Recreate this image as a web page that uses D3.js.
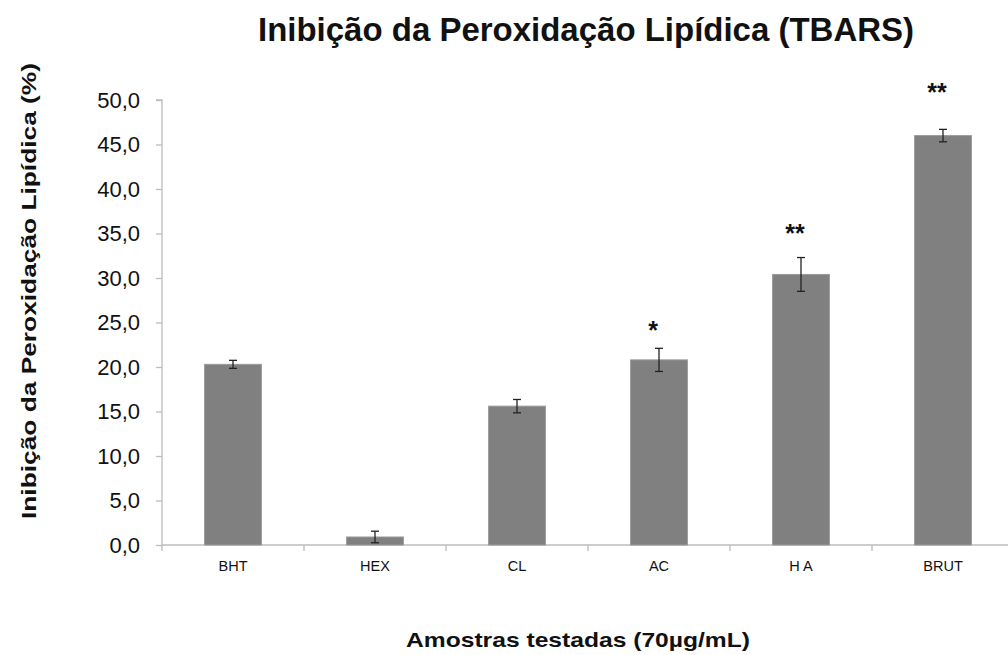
<!DOCTYPE html>
<html><head><meta charset="utf-8">
<script src="https://cdn.jsdelivr.net/npm/d3@7"></script>
<style>body{margin:0;background:#fff}svg{display:block}</style>
</head><body>
<svg id="chart" width="1008" height="655"></svg>
<script>
const categories = ["BHT", "HEX", "CL", "AC", "H A", "BRUT"];
const values = [20.3, 0.9, 15.6, 20.8, 30.4, 46.0];
const errors = [0.45, 0.65, 0.75, 1.3, 1.9, 0.7];
const stars = ["", "", "", "*", "**", "**"];
const starLevels = [0, 0, 0, 23.1, 34.0, 49.9];
const yTicks = [0, 5, 10, 15, 20, 25, 30, 35, 40, 45, 50];
const title = "Inibição da Peroxidação Lipídica (TBARS)";
const yTitle = "Inibição da Peroxidação Lipídica (%)";
const xTitle = "Amostras testadas (70µg/mL)";

const svg = d3.select("#chart");
const mLeft = 162, mRight = 1014, mTop = 100, mBottom = 545;
const x = d3.scaleBand().domain(categories).range([mLeft, mRight]).paddingInner(0.6).paddingOuter(0.3);
const xb = d3.scaleBand().domain(categories).range([mLeft, mRight]);
const y = d3.scaleLinear().domain([0, 50]).range([mBottom, mTop]);
const fmt = v => d3.format(".1f")(v).replace(".", ",");

// y axis
const yAxis = svg.append("g").attr("transform", `translate(${mLeft},0)`)
  .call(d3.axisLeft(y).tickValues(yTicks).tickFormat(fmt).tickSize(6).tickPadding(16));
yAxis.selectAll("path,line").attr("stroke", "#bdbdbd").attr("stroke-width", 1.3);
yAxis.select(".domain").attr("d", `M-6,${mTop}H0V${mBottom}`);
yAxis.selectAll("text").attr("font-family", "Liberation Sans, Arial, sans-serif").attr("font-size", 22).attr("fill", "#111");

// x axis
const xAxis = svg.append("g").attr("transform", `translate(0,${mBottom})`)
  .call(d3.axisBottom(xb).tickSize(0).tickPadding(15.5));
xAxis.select(".domain").attr("stroke", "#bdbdbd").attr("stroke-width", 1.3).attr("d", `M${mLeft},0H${mRight}`);
xAxis.selectAll("text").attr("font-family", "Liberation Sans, Arial, sans-serif").attr("font-size", 14.5).attr("fill", "#111");
xAxis.selectAll(".sep").data(categories).enter().append("line")
  .attr("x1", d => xb(d)).attr("x2", d => xb(d)).attr("y1", 0).attr("y2", 6)
  .attr("stroke", "#bdbdbd").attr("stroke-width", 1.3);

// bars
svg.append("g").selectAll("rect").data(categories).enter().append("rect")
  .attr("x", d => x(d)).attr("width", x.bandwidth())
  .attr("y", (d, i) => y(values[i])).attr("height", (d, i) => y(0) - y(values[i]))
  .attr("fill", "#808080").attr("stroke", "#9a9a9a").attr("stroke-width", 1);

// error bars
const eg = svg.append("g").attr("stroke", "#222").attr("stroke-width", 1.3);
categories.forEach((c, i) => {
  const cx = x(c) + x.bandwidth() / 2;
  const y1 = y(values[i] + errors[i]), y2 = y(values[i] - errors[i]);
  eg.append("line").attr("x1", cx).attr("x2", cx).attr("y1", y1).attr("y2", y2);
  eg.append("line").attr("x1", cx - 4).attr("x2", cx + 4).attr("y1", y1).attr("y2", y1);
  eg.append("line").attr("x1", cx - 4).attr("x2", cx + 4).attr("y1", y2).attr("y2", y2);
});

// significance stars
svg.append("g").selectAll("text").data(categories).enter().append("text")
  .attr("x", d => x(d) + x.bandwidth() / 2 - 6)
  .attr("y", (d, i) => y(starLevels[i]))
  .attr("text-anchor", "middle")
  .attr("font-family", "Liberation Sans, Arial, sans-serif").attr("font-weight", "bold")
  .attr("font-size", 25).attr("fill", "#111")
  .text((d, i) => stars[i]);

// titles
svg.append("text").attr("x", 586).attr("y", 41).attr("text-anchor", "middle")
  .attr("font-family", "Liberation Sans Narrow, Arial Narrow, Liberation Sans, sans-serif")
  .attr("font-weight", "bold").attr("font-size", 34).attr("fill", "#111")
  .attr("textLength", 656).attr("lengthAdjust", "spacingAndGlyphs").text(title);

svg.append("text").attr("transform", "translate(36,291) rotate(-90)").attr("text-anchor", "middle")
  .attr("font-family", "Liberation Sans, Arial, sans-serif").attr("font-weight", "bold")
  .attr("font-size", 21).attr("fill", "#111")
  .attr("textLength", 456).attr("lengthAdjust", "spacingAndGlyphs").text(yTitle);

svg.append("text").attr("x", 578).attr("y", 647).attr("text-anchor", "middle")
  .attr("font-family", "Liberation Sans, Arial, sans-serif").attr("font-weight", "bold")
  .attr("font-size", 21).attr("fill", "#111")
  .attr("textLength", 344).attr("lengthAdjust", "spacingAndGlyphs").text(xTitle);
</script>
</body></html>
